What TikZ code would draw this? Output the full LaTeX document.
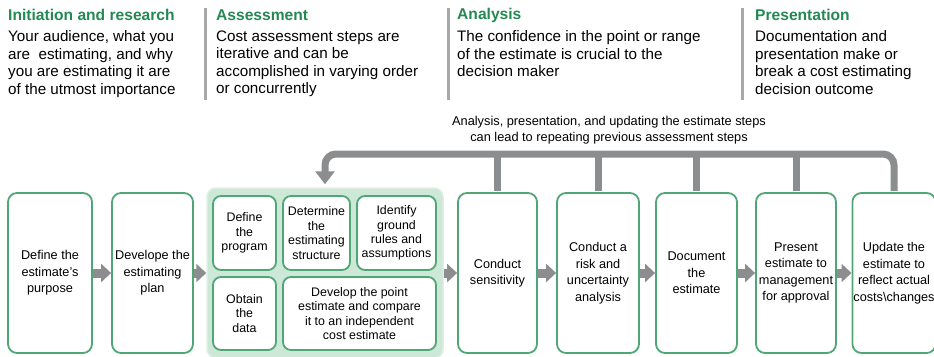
\documentclass[tikz,border=0pt]{standalone}
\usepackage{fontspec}
\setmainfont{Liberation Sans}
\usepackage{xcolor}
\usepackage{tikz}
\usetikzlibrary{arrows.meta}
\definecolor{VerdeTitulo}{RGB}{36,136,82}
\definecolor{VerdeCaja}{RGB}{80,166,118}
\definecolor{VerdeFondo}{RGB}{206,232,215}
\definecolor{GrisFlecha}{RGB}{140,141,143}
\definecolor{GrisLinea}{RGB}{168,168,168}

\begin{document}
\begin{tikzpicture}[x=1pt,y=-1pt,
    stepbox/.style={draw=VerdeCaja,line width=1.8pt,rounded corners=9pt,fill=white,
      align=center,inner sep=1pt,minimum height=160pt,
      font=\fontsize{12.7}{16.5}\selectfont},
    subbox/.style={draw=VerdeCaja,line width=1.8pt,rounded corners=8pt,fill=white,
      align=center,inner sep=1pt,font=\fontsize{12.4}{14.4}\selectfont},
    heading/.style={anchor=west,inner sep=0pt,text=VerdeTitulo,
      font=\bfseries\fontsize{15.6}{18}\selectfont},
    blurb/.style={anchor=north west,inner sep=0pt,align=left,
      font=\fontsize{15.2}{17.5}\selectfont},
    divider/.style={draw=GrisLinea,line width=3pt},
    flowarrow/.style={draw=GrisFlecha,line width=9pt,-{Triangle[width=18pt,length=10pt]}},
    loopbar/.style={draw=GrisFlecha,line width=7pt,rounded corners=11pt}]
  \useasboundingbox (0,0) rectangle (934,356);

  % phase headings and their notes
  \node[heading] (initHead) at (8,15) {Initiation and research};
  \node[blurb] (initText) at (8,30.5) {Your audience, what you\\are\ \ estimating, and why\\you are estimating it are\\of the utmost importance};
  \draw[divider] (205,8) -- (205,100);
  \node[heading] (assessHead) at (216,15) {Assessment};
  \node[blurb] (assessText) at (216,30.5) {Cost assessment steps are\\iterative and can be\\accomplished in varying order\\or concurrently};
  \draw[divider] (448,8) -- (448,100);
  \node[heading] (analysisHead) at (457,15) {Analysis};
  \node[blurb] (analysisText) at (457,30.5) {The confidence in the point or range\\of the estimate is crucial to the\\decision maker};
  \draw[divider] (742,8) -- (742,100);
  \node[heading] (presentHead) at (755,15) {Presentation};
  \node[blurb] (presentText) at (755,30.5) {Documentation and\\presentation make or\\break a cost estimating\\decision outcome};

  % the twelve steps
  \node[stepbox,minimum width=84pt] (purpose) at (50,273) {Define the\\estimate's\\purpose};
  \node[stepbox,minimum width=81pt] (plan) at (152.5,273) {Develope the\\estimating\\plan};

  \node[fill=VerdeFondo,draw=VerdeFondo!70!white,line width=1.5pt,rounded corners=9pt,
    minimum width=236pt,minimum height=170pt] (assess) at (325,273) {};
  \node[subbox,minimum width=63pt,minimum height=74pt] (program) at (244.5,233) {Define\\the\\program};
  \node[subbox,minimum width=67pt,minimum height=74pt] (structure) at (316.5,233) {Determine\\the\\estimating\\structure};
  \node[subbox,minimum width=79pt,minimum height=74pt] (rules) at (396.5,233) {Identify\\ground\\rules and\\assumptions};
  \node[subbox,minimum width=63pt,minimum height=73pt] (data) at (244.5,313.5) {Obtain\\the\\data};
  \node[subbox,minimum width=153pt,minimum height=73pt] (point) at (359.5,313.5) {Develop the point\\estimate and compare\\it to an independent\\cost estimate};

  \node[stepbox,minimum width=79pt] (sensitivity) at (497.5,273) {Conduct\\sensitivity};
  \node[stepbox,minimum width=82pt] (risk) at (598,273) {Conduct a\\risk and\\uncertainty\\analysis};
  \node[stepbox,minimum width=81pt] (document) at (696.5,273) {Document\\the\\estimate};
  \node[stepbox,minimum width=80pt] (present) at (796,273) {Present\\estimate to\\management\\for approval};
  \node[stepbox,minimum width=77pt] (update) at (894,273) {Update the\\estimate to\\reflect actual\\costs\textbackslash changes};

  % forward flow
  \draw[flowarrow] (purpose.east) -- (plan.west);
  \draw[flowarrow] (plan.east) -- (assess.west);
  \draw[flowarrow] (assess.east) -- (sensitivity.west);
  \draw[flowarrow] (sensitivity.east) -- (risk.west);
  \draw[flowarrow] (risk.east) -- (document.west);
  \draw[flowarrow] (document.east) -- (present.west);
  \draw[flowarrow] (present.east) -- (update.west);

  % loop back to the assessment steps
  \coordinate (bar) at (0,154);
  \draw[loopbar,-{Triangle[width=19pt,length=13pt]},shorten >=3pt,shorten <=1pt]
    (update.north) |- (bar -| assess.north) -- (assess.north);
  \draw[loopbar,shorten <=1pt] (sensitivity.north) -- (sensitivity.north |- bar);
  \draw[loopbar,shorten <=1pt] (risk.north) -- (risk.north |- bar);
  \draw[loopbar,shorten <=1pt] (document.north) -- (document.north |- bar);
  \draw[loopbar,shorten <=1pt] (present.north) -- (present.north |- bar);
  \node[align=center,font=\fontsize{12.8}{16}\selectfont] (loopNote) at (609,130)
    {Analysis, presentation, and updating the estimate steps\\can lead to repeating previous assessment steps};
\end{tikzpicture}
\end{document}
